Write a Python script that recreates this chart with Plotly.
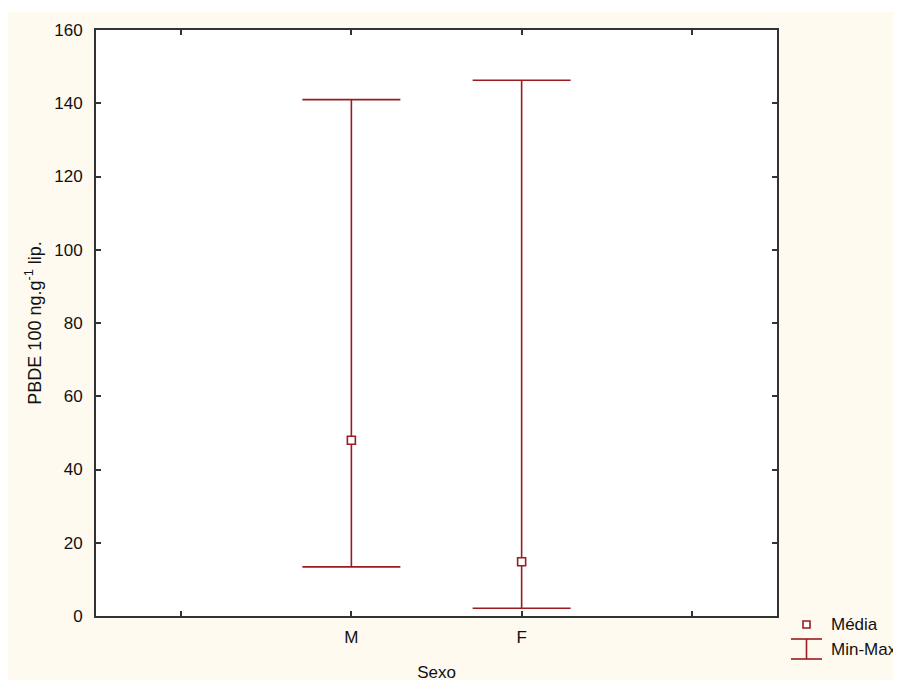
import plotly.graph_objects as go

# Data
categories = ["M", "F"]
mean_vals = [48.0, 14.8]
min_vals = [13.4, 2.1]
max_vals = [141.0, 146.3]
y_ticks = [0, 20, 40, 60, 80, 100, 120, 140, 160]
extra_x_ticks = [0, 3]

RED = "#9a1b20"
CREAM = "#fffaf0"
FONT = "Liberation Sans, Arial, sans-serif"
FS = 17

xpos = [i + 1 for i in range(len(categories))]
err_plus = [mx - m for mx, m in zip(max_vals, mean_vals)]
err_minus = [m - mn for m, mn in zip(mean_vals, min_vals)]

fig = go.Figure()
fig.add_trace(go.Scatter(
    x=xpos, y=mean_vals, mode="markers",
    marker=dict(symbol="square", size=8, color="white", line=dict(color=RED, width=1.6)),
    error_y=dict(type="data", array=err_plus, arrayminus=err_minus,
                 color=RED, thickness=1.6, width=49),
    showlegend=False,
))

# page has an 8px body margin: figure drawn at (8, 8)
OFF = 8
W, H = 901 - OFF, 682 - OFF
L, R, T, B = 96 - OFF, 901 - 777, 30 - OFF, 682 - 616
pw, ph = W - L - R, H - T - B

def px(x):
    return (x - OFF - L) / pw

def py(y):
    return (H - B - (y - OFF)) / ph

shapes = [
    dict(type="rect", xref="paper", yref="paper", layer="below",
         x0=px(8), x1=px(901), y0=py(680), y1=py(12),
         fillcolor=CREAM, line=dict(width=0)),
    dict(type="rect", xref="paper", yref="paper", layer="below",
         x0=0, x1=1, y0=0, y1=1, fillcolor="white", line=dict(width=0)),
    # legend glyph Min-Max
    dict(type="line", xref="paper", yref="paper", x0=px(791), x1=px(822), y0=py(639), y1=py(639),
         line=dict(color=RED, width=1.6)),
    dict(type="line", xref="paper", yref="paper", x0=px(806.5), x1=px(806.5), y0=py(639), y1=py(659),
         line=dict(color=RED, width=1.6)),
    dict(type="line", xref="paper", yref="paper", x0=px(791), x1=px(822), y0=py(659), y1=py(659),
         line=dict(color=RED, width=1.6)),
    # legend glyph Média
    dict(type="rect", xref="paper", yref="paper", x0=px(803), x1=px(810), y0=py(628), y1=py(621),
         fillcolor="white", line=dict(color=RED, width=1.6)),
]

annotations = [
    dict(text="Média", xref="paper", yref="paper", x=px(829), y=py(625),
         xanchor="left", yanchor="middle", showarrow=False,
         font=dict(family=FONT, size=FS, color="#111")),
    dict(text="Min-Max", xref="paper", yref="paper", x=px(829), y=py(649),
         xanchor="left", yanchor="middle", showarrow=False,
         font=dict(family=FONT, size=FS, color="#111")),
]

fig.update_layout(
    width=W, height=H,
    margin=dict(l=L, r=R, t=T, b=B, autoexpand=False),
    paper_bgcolor="white", plot_bgcolor="white",
    font=dict(family=FONT, size=FS, color="#111"),
    shapes=shapes, annotations=annotations,
    showlegend=False,
)
fig.update_xaxes(
    range=[-0.5, 3.5], tickvals=xpos, ticktext=categories,
    minor=dict(tickvals=extra_x_ticks, ticks="inside", ticklen=5, tickcolor="#333", tickwidth=1.5),
    showgrid=False, zeroline=False, automargin=False,
    showline=True, linecolor="#333", linewidth=2, mirror="ticks",
    ticks="inside", ticklen=5, tickcolor="#333", tickwidth=1.5,
    ticklabelstandoff=5,
    title=dict(text="Sexo", standoff=20, font=dict(size=FS)),
)
fig.update_yaxes(
    range=[0, 160], tickvals=y_ticks,
    showgrid=False, zeroline=False, automargin=False,
    showline=True, linecolor="#333", linewidth=2, mirror="ticks",
    ticks="inside", ticklen=5, tickcolor="#333", tickwidth=1.5,
    ticklabelstandoff=8,
    title=dict(text="PBDE 100 ng.g<sup>-1</sup> lip.", standoff=8, font=dict(size=18)),
)

fig.write_html("out.html")
